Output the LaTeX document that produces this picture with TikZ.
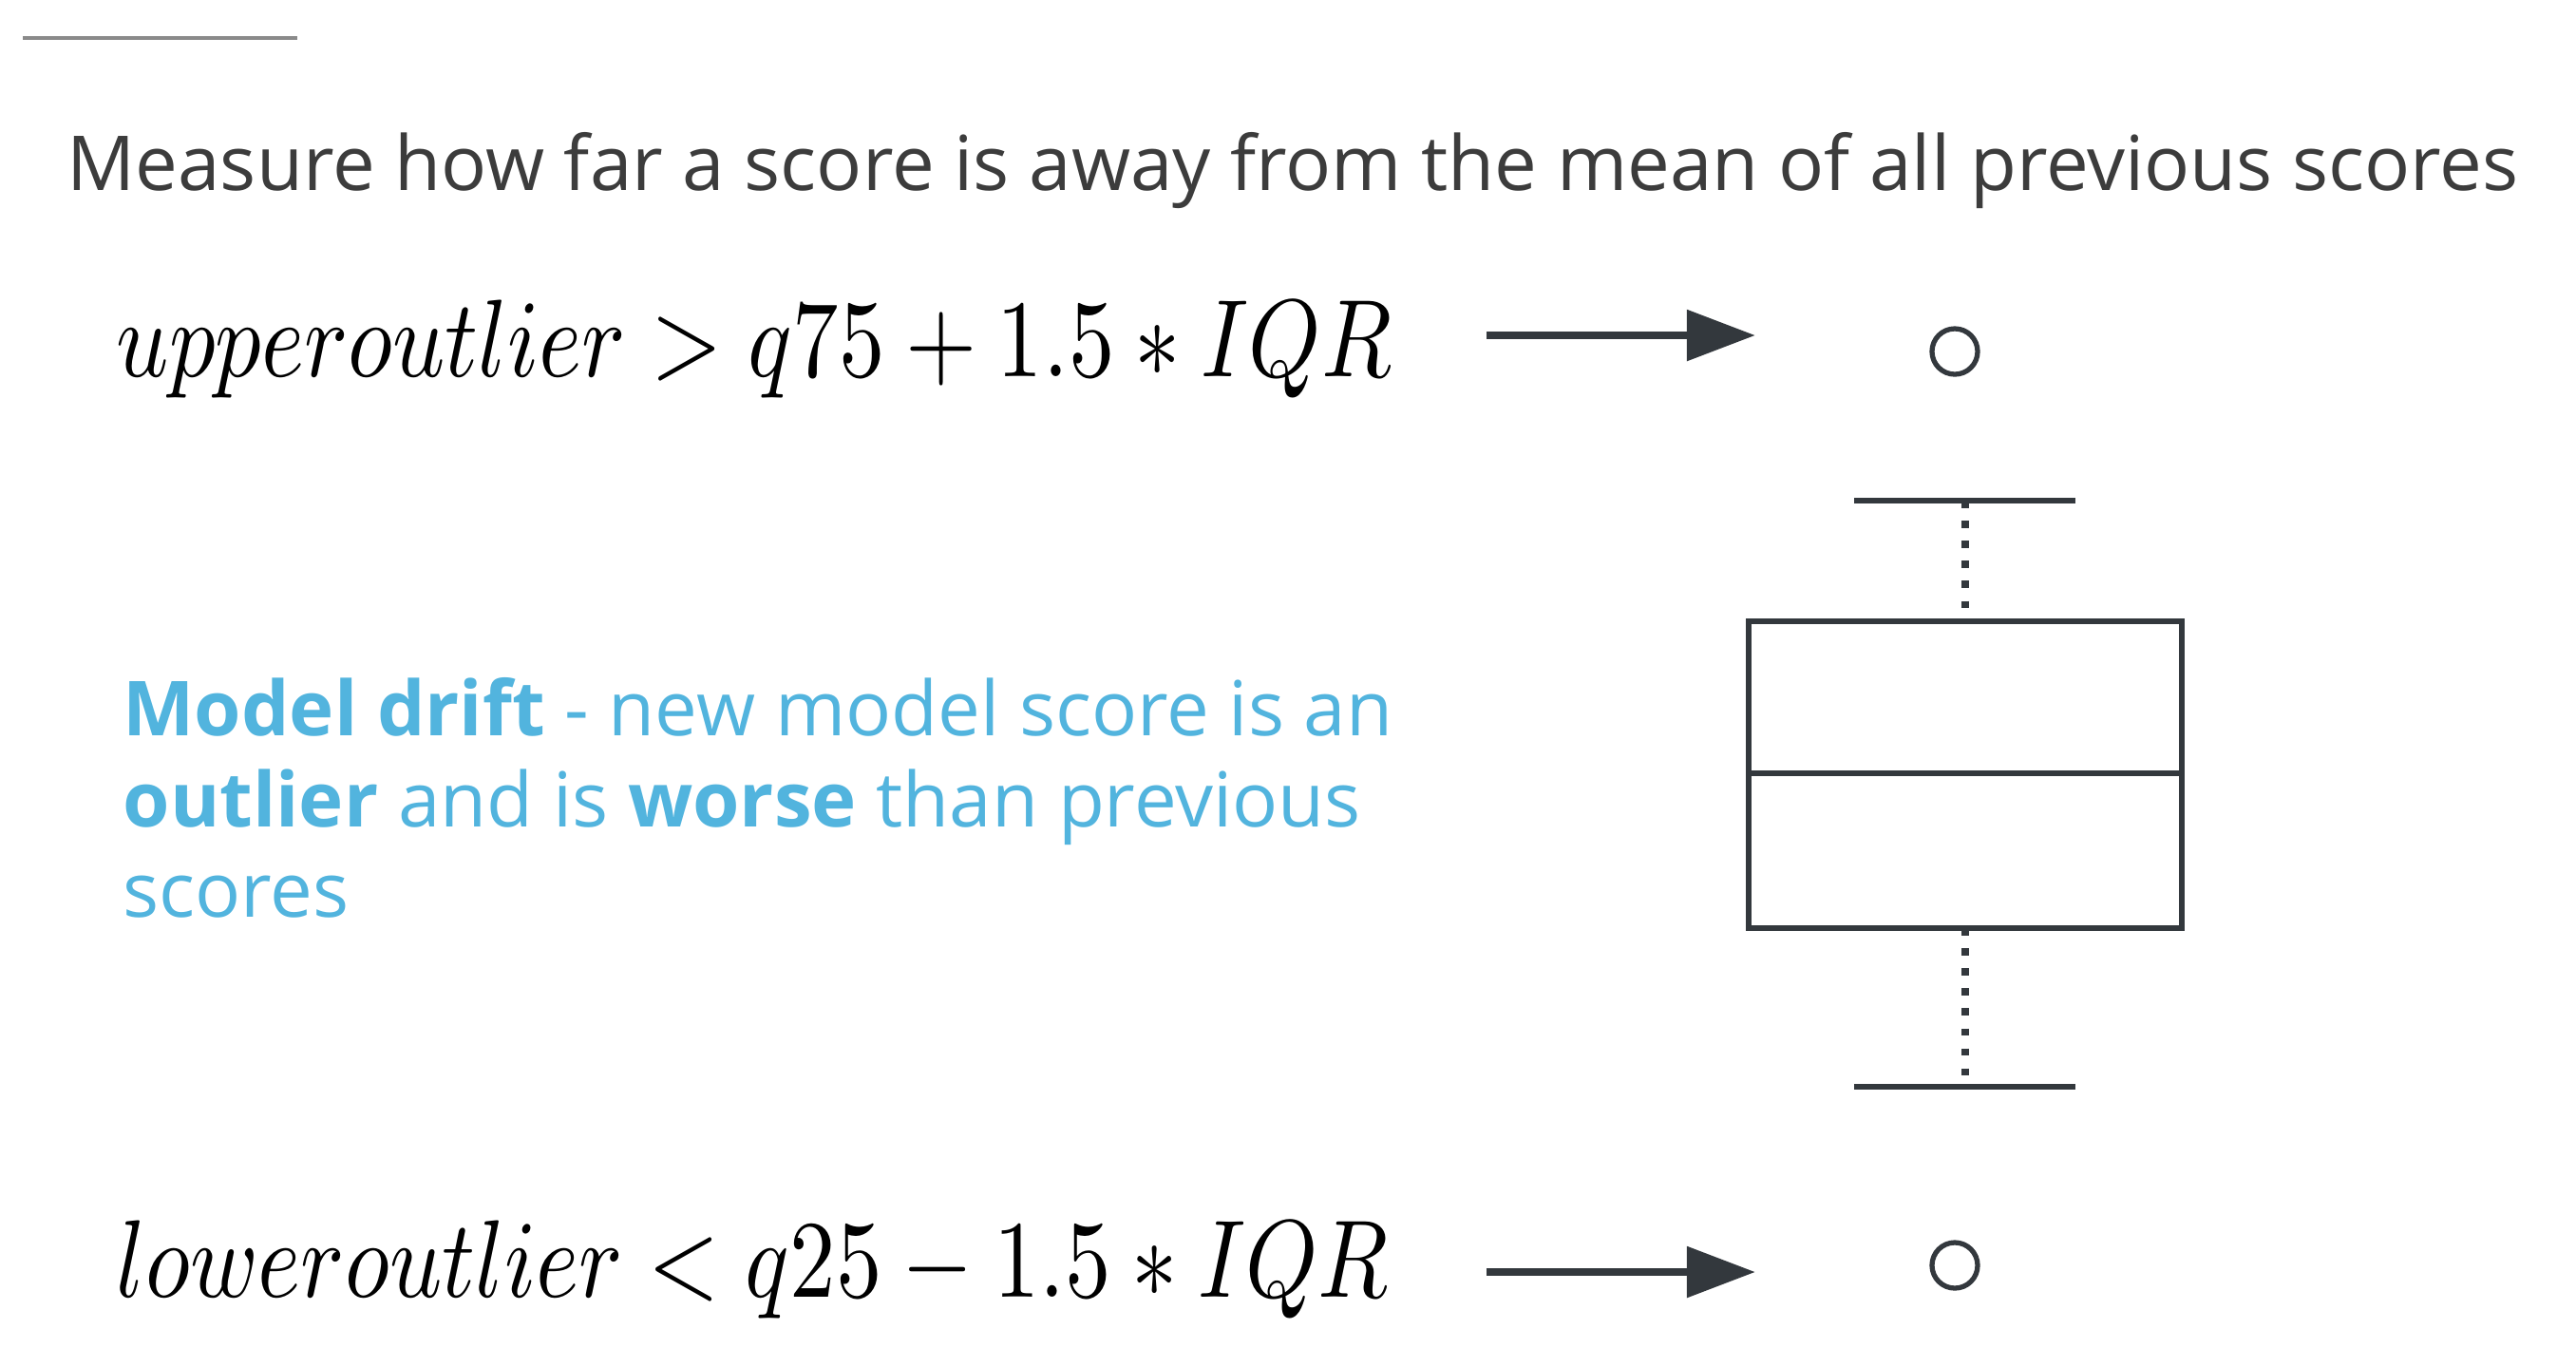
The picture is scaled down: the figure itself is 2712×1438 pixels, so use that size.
\documentclass[tikz,border=0pt]{standalone}
\usepackage{fontspec}
\setmainfont{Open Sans}
\usetikzlibrary{arrows.meta}
\definecolor{titlegray}{HTML}{3C3C3C}
\definecolor{drift}{HTML}{52B4DE}
\definecolor{boxgray}{HTML}{33383D}
\definecolor{rulegray}{HTML}{8A8A8A}
\tikzset{
  titletext/.style={anchor=base west, inner sep=0pt, text=titlegray, font=\fontsize{22.7}{28}\selectfont},
  formula/.style={anchor=base west, inner sep=0pt, text=black},
  drifttext/.style={anchor=base west, inner sep=0pt, text=drift, font=\fontsize{22.7}{28}\selectfont},
  pointer/.style={line width=2.5pt, draw=boxgray, -{Triangle[length=0.72cm,width=0.52cm]}},
  outlier/.style={circle, draw=boxgray, line width=1.5pt, minimum size=0.48cm, inner sep=0pt},
  boxline/.style={draw=boxgray, line width=1.8pt},
  whiskerdots/.style={draw=boxgray, line width=2.2pt, dash pattern=on 2.2pt off 3.8pt}
}
\begin{document}
\begin{tikzpicture}[x=0.01cm,y=-0.01cm]
\useasboundingbox (0,0) rectangle (2712,1438);
\fill[white] (0,0) rectangle (2712,1438);
% top rule
\draw[rulegray, line width=1.1pt] (24,40) -- (313,40);
% title
\node[titletext] (title) at (70,200) {Measure how far a score is away from the mean of all previous scores};
% formulas
\node[formula] (upf) at (122,396) {\scalebox{2.75}[3.3]{$upperoutlier > q75 + 1.5 * IQR$}};
\node[formula] (lowf) at (122,1365) {\scalebox{2.75}[3.3]{$loweroutlier < q25 - 1.5 * IQR$}};
% arrows
\coordinate (ua1) at (1565,353);
\coordinate (ua2) at (1848,353);
\coordinate (la1) at (1565,1339);
\coordinate (la2) at (1848,1339);
\draw[pointer] (ua1) -- (ua2);
\draw[pointer] (la1) -- (la2);
% outlier circles
\node[outlier] (uo) at (2058,370) {};
\node[outlier] (lo) at (2058,1332) {};
% drift text
\node[drifttext] (d1) at (129,774) {\textbf{Model drift} - new model score is an};
\node[drifttext] (d2) at (129,870) {\textbf{outlier} and is \textbf{worse} than previous};
\node[drifttext] (d3) at (129,965) {scores};
% box plot
\coordinate (wt1) at (1952,527);
\coordinate (wt2) at (2185,527);
\coordinate (wb1) at (1952,1144);
\coordinate (wb2) at (2185,1144);
\coordinate (wtm) at (2069,527);
\coordinate (wbm) at (2069,1144);
\coordinate (bt) at (2069,654);
\coordinate (bb) at (2069,977);
\draw[boxline] (wt1) -- (wt2);
\draw[boxline] (wb1) -- (wb2);
\draw[whiskerdots] (wtm) -- (bt);
\draw[whiskerdots] (bb) -- (wbm);
\draw[boxline] (1841,654) rectangle (2297,977);
\draw[boxline] (1841,814) -- (2297,814);
\end{tikzpicture}
\end{document}
